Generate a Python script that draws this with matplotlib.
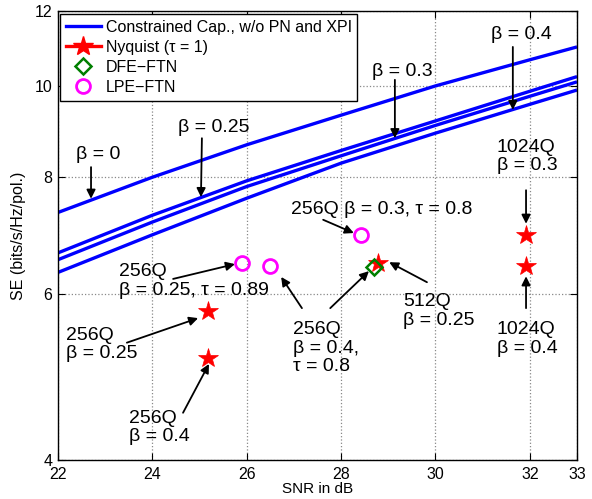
import numpy as np
import matplotlib
matplotlib.use("Agg")
import matplotlib.pyplot as plt
from matplotlib.lines import Line2D
from matplotlib.ticker import FixedLocator, NullLocator, FixedFormatter

plt.rcParams['font.family'] = ['Liberation Sans', 'DejaVu Sans']

# ---- data ----
snr_grid = [22, 24, 26, 28, 30, 32, 33]
se_beta0 = [7.33, 7.99, 8.65, 9.30, 9.99, 10.65, 10.99]
se_beta025 = [6.64, 7.28, 7.92, 8.53, 9.17, 9.86, 10.22]
se_beta03 = [6.53, 7.16, 7.81, 8.42, 9.07, 9.74, 10.09]
se_beta04 = [6.33, 6.94, 7.59, 8.27, 8.90, 9.55, 9.89]

nyq_snr = [25.18, 25.18, 28.79, 31.92, 31.92]
nyq_se = [5.76, 5.14, 6.48, 6.94, 6.43]

dfe_snr = [28.70]
dfe_se = [6.41]

lpe_snr = [25.90, 26.49, 28.42]
lpe_se = [6.47, 6.43, 6.94]

xticks = [22, 24, 26, 28, 30, 32, 33]
yticks = [4, 6, 8, 10, 12]

# ---- figure ----
fig = plt.figure(figsize=(5.92, 4.99), dpi=100)
ax = fig.add_axes([58/592, 39/499, 519/592, 449/499])

for se in (se_beta0, se_beta025, se_beta03, se_beta04):
    ax.plot(snr_grid, se, color='#0000ff', lw=2.4, solid_capstyle='butt')

ax.plot(nyq_snr, nyq_se, linestyle='none', marker='*', color='red',
        markersize=15, markeredgewidth=0.5, markeredgecolor='red')
ax.plot(dfe_snr, dfe_se, linestyle='none', marker='D', markerfacecolor='none',
        markeredgecolor='#007f00', markersize=8, markeredgewidth=1.8, zorder=2)
ax.plot(lpe_snr, lpe_se, linestyle='none', marker='o', markerfacecolor='none',
        markeredgecolor='#ff00ff', markersize=10, markeredgewidth=2)

ax.set_yscale('log')
ax.set_xlim(22, 33)
ax.set_ylim(4, 12)
ax.xaxis.set_major_locator(FixedLocator(xticks))
ax.yaxis.set_major_locator(FixedLocator(yticks))
ax.yaxis.set_major_formatter(FixedFormatter([str(t) for t in yticks]))
ax.yaxis.set_minor_locator(NullLocator())
ax.set_xticklabels([str(t) for t in xticks])

ax.grid(True, which='major', linestyle=':', color='#888888', lw=0.9)
ax.tick_params(direction='in', top=True, right=True, length=5, width=0.8,
               labelsize=11.5)
ax.tick_params(axis='x', pad=5)
ax.tick_params(axis='y', pad=4)
for s in ax.spines.values():
    s.set_linewidth(1.0)

ax.set_xlabel('SNR in dB', fontsize=11, labelpad=0)
ax.set_ylabel('SE (bits/s/Hz/pol.)', fontsize=11.5, labelpad=6)

# ---- annotations ----
fs = 14
ls = 1.1
arrow = dict(arrowstyle='-|>', color='k', lw=1.3, mutation_scale=13,
             shrinkA=0, shrinkB=0)

def arr(tail, tip):
    ax.annotate('', xy=tip, xytext=tail, arrowprops=arrow)

ax.text(22.85, 8.44, 'β = 0', fontsize=fs, ha='center', va='center')
arr((22.70, 8.19), (22.70, 7.58))

ax.text(25.31, 9.03, 'β = 0.25', fontsize=fs, ha='center', va='center')
arr((25.05, 8.79), (25.03, 7.61))

ax.text(29.29, 10.36, 'β = 0.3', fontsize=fs, ha='center', va='center')
arr((29.14, 10.14), (29.14, 8.79))

ax.text(31.83, 11.34, 'β = 0.4', fontsize=fs, ha='center', va='center')
arr((31.64, 10.99), (31.64, 9.42))

ax.text(31.30, 8.40, '1024Q\nβ = 0.3', fontsize=fs, ha='left', va='center',
        linespacing=ls)
arr((31.92, 7.74), (31.92, 7.13))

ax.text(28.85, 7.39, '256Q β = 0.3, τ = 0.8', fontsize=fs, ha='center',
        va='center')
arr((27.62, 7.20), (28.27, 6.97))

ax.text(23.29, 6.20, '256Q\nβ = 0.25, τ = 0.89', fontsize=fs, ha='left',
        va='center', linespacing=ls)
arr((24.44, 6.23), (25.75, 6.46))

ax.text(22.17, 5.31, '256Q\nβ = 0.25', fontsize=fs, ha='left', va='center',
        linespacing=ls)
arr((23.46, 5.33), (24.97, 5.66))

ax.text(23.50, 4.33, '256Q\nβ = 0.4', fontsize=fs, ha='left', va='center',
        linespacing=ls)
arr((24.65, 4.49), (25.20, 5.06))

ax.text(26.98, 5.26, '256Q\nβ = 0.4,\nτ = 0.8', fontsize=fs, ha='left',
        va='center', linespacing=ls)
arr((27.17, 5.80), (26.73, 6.26))
arr((27.77, 5.80), (28.59, 6.35))

ax.text(29.31, 5.76, '512Q\nβ = 0.25', fontsize=fs, ha='left', va='center',
        linespacing=ls)
arr((29.82, 6.18), (29.02, 6.49))

ax.text(31.30, 5.38, '1024Q\nβ = 0.4', fontsize=fs, ha='left', va='center',
        linespacing=ls)
arr((31.92, 5.80), (31.92, 6.27))

# ---- legend ----
handles = [
    Line2D([], [], color='#0000ff', lw=2.4),
    Line2D([], [], color='red', lw=2.4, marker='*', markersize=15),
    Line2D([], [], linestyle='none', marker='D', markerfacecolor='none',
           markeredgecolor='#007f00', markersize=8, markeredgewidth=1.8),
    Line2D([], [], linestyle='none', marker='o', markerfacecolor='none',
           markeredgecolor='#ff00ff', markersize=10, markeredgewidth=2),
]
labels = ['Constrained Cap., w/o PN and XPI', 'Nyquist (τ = 1)',
          'DFE−FTN', 'LPE−FTN']
leg = ax.legend(handles, labels, loc='upper left',
                bbox_to_anchor=(2/519, 446/449), borderaxespad=0,
                fontsize=11.5, fancybox=False, edgecolor='k', framealpha=1,
                handlelength=2.2, handletextpad=0.3, labelspacing=0.32,
                borderpad=0.35, numpoints=1)
leg.get_frame().set_linewidth(1.0)

fig.savefig('out.png', dpi=100)
